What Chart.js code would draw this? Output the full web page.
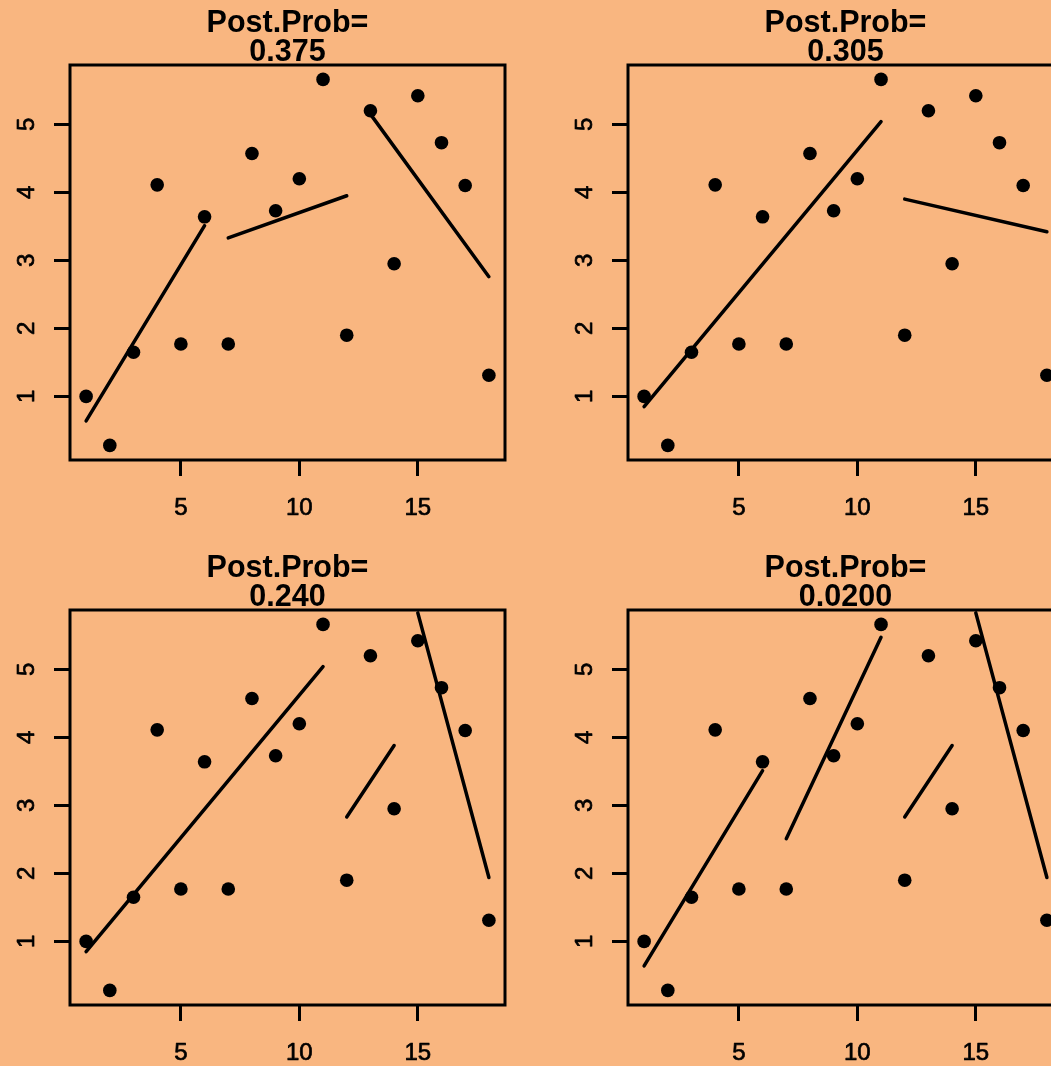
<!DOCTYPE html>
<html>
<head>
<meta charset="utf-8">
<title>Post.Prob segment fits</title>
<script src="https://cdn.jsdelivr.net/npm/chart.js@4.4.1/dist/chart.umd.min.js"></script>
<style>
  html, body { margin: 0; padding: 0; background: #F9B680; overflow: hidden; width: 1051px; height: 1066px; }
  .panel { position: absolute; width: 558px; height: 545px; }
  canvas { display: block; }
</style>
</head>
<body>
<div class="panel" style="left:0;top:0"><canvas id="p0" width="558" height="545"></canvas></div>
<div class="panel" style="left:558px;top:0"><canvas id="p1" width="558" height="545"></canvas></div>
<div class="panel" style="left:0;top:545px"><canvas id="p2" width="558" height="545"></canvas></div>
<div class="panel" style="left:558px;top:545px"><canvas id="p3" width="558" height="545"></canvas></div>
<script>
// Observations
const xValues = [1, 2, 3, 4, 5, 6, 7, 8, 9, 10, 11, 12, 13, 14, 15, 16, 17, 18];
const yValues = [1.00, 0.28, 1.65, 4.11, 1.77, 3.64, 1.77, 4.57, 3.73, 4.20,
                 5.66, 1.90, 5.20, 2.95, 5.42, 4.73, 4.10, 1.31];

// Axis ticks
const xTicks = [5, 10, 15];
const yTicks = [1, 2, 3, 4, 5];

// Panel titles (posterior probabilities)
const postProbs = ['0.375', '0.305', '0.240', '0.0200'];

// Fitted segments per panel: [xStart, yStart, xEnd, yEnd]
const segments375  = [[1, 0.64, 6, 3.51], [7, 3.33, 12, 3.95], [13, 5.15, 18, 2.76]];
const segments305  = [[1, 0.85, 11, 5.04], [12, 3.90, 18, 3.42]];
const segments240  = [[1, 0.85, 11, 5.04], [12, 2.83, 14, 3.88], [15, 5.83, 18, 1.94]];
const segments0200 = [[1, 0.64, 6, 3.51], [7, 2.51, 11, 5.47], [12, 2.83, 14, 3.88], [15, 5.83, 18, 1.94]];
const panelSegments = [segments375, segments305, segments240, segments0200];

const FONT = '"Liberation Sans", Arial, Helvetica, sans-serif';

function heavyText(ctx, text, x, y) {
  ctx.fillText(text, x, y);
  ctx.strokeText(text, x, y);
}

const framePlugin = {
  id: 'frame',
  afterDraw(chart, args, opts) {
    const ctx = chart.ctx;
    const a = chart.chartArea;
    const xs = chart.scales.x, ys = chart.scales.y;
    ctx.save();
    ctx.strokeStyle = '#000';
    ctx.lineWidth = 3;
    ctx.strokeRect(a.left, a.top, a.right - a.left, a.bottom - a.top);

    ctx.fillStyle = '#000';
    ctx.lineWidth = 0.7;
    ctx.lineJoin = 'round';
    ctx.font = '24px ' + FONT;
    ctx.textAlign = 'center';
    ctx.textBaseline = 'alphabetic';
    xTicks.forEach(v => heavyText(ctx, String(v), xs.getPixelForValue(v), a.bottom + 55));
    yTicks.forEach(v => {
      ctx.save();
      ctx.translate(a.left - 36, ys.getPixelForValue(v));
      ctx.rotate(-Math.PI / 2);
      heavyText(ctx, String(v), 0, 0);
      ctx.restore();
    });

    const cx = (a.left + a.right) / 2;
    ctx.font = 'bold 30.5px ' + FONT;
    ctx.fillText('Post.Prob=', cx, a.top - 33);
    ctx.fillText(opts.prob, cx, a.top - 4);
    ctx.restore();
  }
};

function buildPanel(id, prob, segs) {
  const datasets = [{
    data: xValues.map((x, i) => ({ x: x, y: yValues[i] })),
    showLine: false,
    pointRadius: 6.8,
    pointBackgroundColor: '#000',
    pointBorderWidth: 0,
    pointHoverRadius: 6.8
  }];
  segs.forEach(s => datasets.push({
    data: [{ x: s[0], y: s[1] }, { x: s[2], y: s[3] }],
    showLine: true,
    borderColor: '#000',
    borderWidth: 3.5,
    borderCapStyle: 'round',
    pointRadius: 0,
    fill: false
  }));

  const axisGrid = { display: true, drawOnChartArea: false, drawTicks: true, tickLength: 16, color: '#000', lineWidth: 3 };

  new Chart(document.getElementById(id), {
    type: 'scatter',
    data: { datasets },
    options: {
      responsive: false,
      animation: false,
      devicePixelRatio: 1,
      layout: { padding: { top: 65, right: 53, left: 0, bottom: 0 } },
      plugins: { legend: { display: false }, tooltip: { enabled: false }, frame: { prob: prob } },
      scales: {
        x: {
          type: 'linear', min: 0.32, max: 18.68,
          afterBuildTicks: s => { s.ticks = xTicks.map(v => ({ value: v })); },
          afterFit: s => { s.height = 85; },
          ticks: { display: false },
          grid: axisGrid,
          border: { display: false }
        },
        y: {
          type: 'linear', min: 0.065, max: 5.872,
          afterBuildTicks: s => { s.ticks = yTicks.map(v => ({ value: v })); },
          afterFit: s => { s.width = 70; },
          ticks: { display: false },
          grid: axisGrid,
          border: { display: false }
        }
      }
    },
    plugins: [framePlugin]
  });
}

['p0', 'p1', 'p2', 'p3'].forEach((id, i) => buildPanel(id, postProbs[i], panelSegments[i]));
</script>
</body>
</html>
